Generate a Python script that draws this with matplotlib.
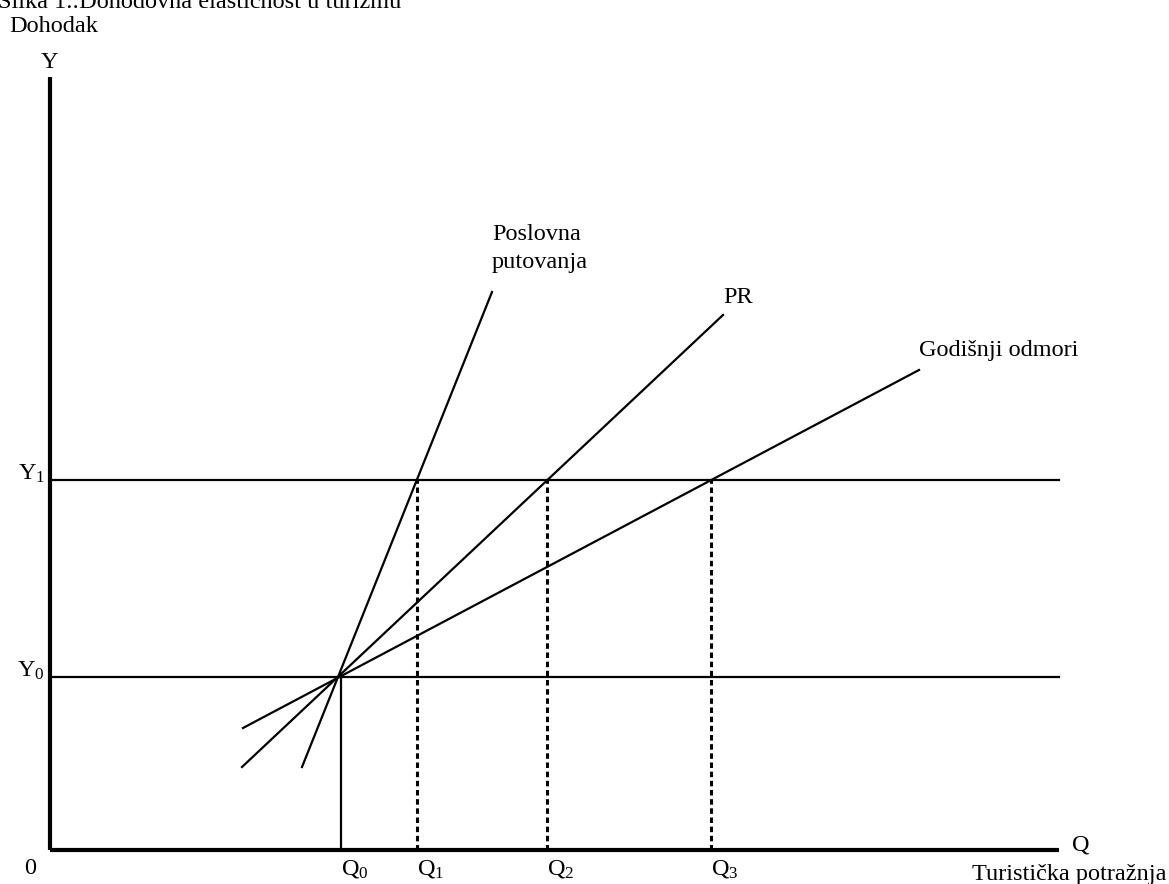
import numpy as np
import matplotlib.pyplot as plt

plt.rcParams['font.family'] = ['Liberation Serif', 'DejaVu Serif']
plt.rcParams['mathtext.fontset'] = 'custom'
plt.rcParams['mathtext.rm'] = 'Liberation Serif'
plt.rcParams['mathtext.it'] = 'Liberation Serif'

# quantities on the Q axis and incomes on the Y axis (diagram units)
q_names = ['Q_0', 'Q_1', 'Q_2', 'Q_3']
q_vals = [291, 367, 497, 661]
y_names = ['Y_0', 'Y_1']
y_vals = [173, 370]

x_axis_len = 1009
y_axis_len = 773

# demand lines: (x start, x end), (y start, y end)
line_names = ['Poslovna\nputovanja', 'PR', 'Godišnji odmori']
line_x = [(252, 442), (192, 673), (193, 869)]
line_y = [(83, 558), (83, 535), (122, 480)]
label_pos = [(442, 626), (673, 563), (869, 510)]

fs = 17.5

fig = plt.figure(figsize=(11.69, 8.84), dpi=100)
ax = fig.add_axes([0, 0, 1, 1])
ax.set_xlim(-50, 1119)
ax.set_ylim(-34, 850)
ax.axis('off')

# axes
ax.plot([0, x_axis_len], [0, 0], color='black', lw=3, solid_capstyle='butt')
ax.plot([0, 0], [0, y_axis_len], color='black', lw=3, solid_capstyle='butt')

# income levels
for yv in y_vals:
    ax.plot([0, x_axis_len], [yv, yv], color='black', lw=1.6)

# Q0 solid, others dotted up to Y1
ax.plot([q_vals[0], q_vals[0]], [0, y_vals[0]], color='black', lw=1.6)
for qv in q_vals[1:]:
    ax.plot([qv, qv], [0, y_vals[1]], color='black', lw=2.2,
            linestyle=(0, (1.8, 1.2)))

for xs, ys in zip(line_x, line_y):
    ax.plot(xs, ys, color='black', lw=1.6)

for name, (lx, ly) in zip(line_names, label_pos):
    ax.text(lx, ly, name, fontsize=fs, ha='left', va='top', linespacing=1.45)

for name, qv in zip(q_names, q_vals):
    ax.text(qv, -25, r'$\mathrm{' + name[0] + '}_{' + name[2] + '}$',
            fontsize=fs, ha='left', va='baseline')

for name, yv in zip(y_names, y_vals):
    ax.text(-5, yv, r'$\mathrm{' + name[0] + '}_{' + name[2] + '}$',
            fontsize=fs, ha='right', va='baseline')

ax.text(-20, -18, '0', fontsize=fs, ha='center', va='center')
ax.text(1022, -1, 'Q', fontsize=fs, ha='left', va='baseline')
ax.text(1117, -30, 'Turistička potražnja', fontsize=fs, ha='right', va='baseline')
ax.text(-1, 782, 'Y', fontsize=fs, ha='center', va='baseline')
ax.text(-41, 818, 'Dohodak', fontsize=fs, ha='left', va='baseline')
ax.text(-52, 842, 'Slika 1.:Dohodovna elastičnost u turizmu', fontsize=fs,
        ha='left', va='baseline')

fig.savefig('out.png', dpi=100)
